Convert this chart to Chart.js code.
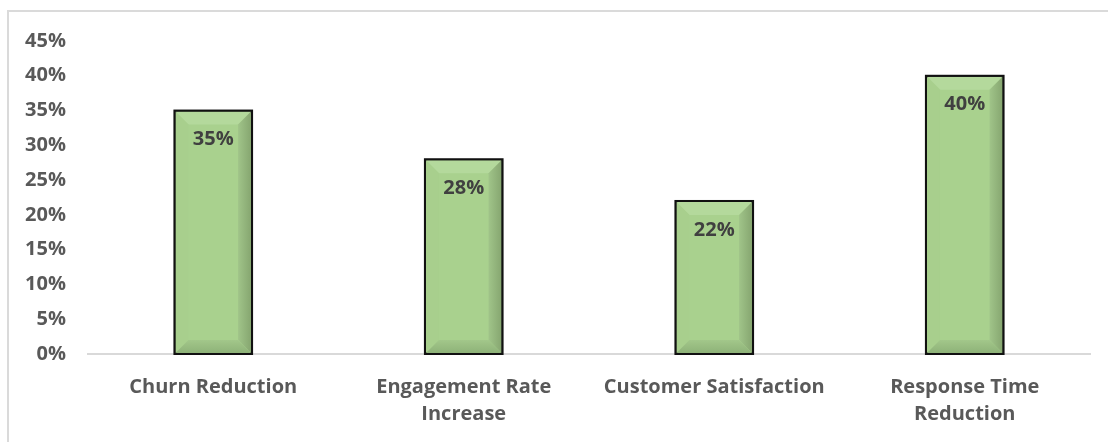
<!DOCTYPE html>
<html>
<head>
<meta charset="utf-8">
<script src="https://cdn.jsdelivr.net/npm/chart.js@4"></script>
<style>
  html, body { margin: 0; padding: 0; background: #fff; overflow: hidden; }
  #wrap { position: relative; width: 1108px; height: 442px; }
  #frame { position: absolute; left: 7px; top: 10px; width: 1120px; height: 460px; border: 2px solid #dadada; box-sizing: border-box; }
  #chart { position: absolute; left: 0; top: 0; }
</style>
</head>
<body>
<div id="wrap">
  <div id="frame"></div>
  <canvas id="chart" width="1108" height="442"></canvas>
</div>
<script>
// data
const categories = [
  'Churn Reduction',
  ['Engagement Rate', 'Increase'],
  'Customer Satisfaction',
  ['Response Time', 'Reduction']
];
const improvement = [35, 28, 22, 40];
const yTicks = [0, 5, 10, 15, 20, 25, 30, 35, 40, 45];

const FONT = '"Open Sans", Lato, sans-serif';

// bevel look on each bar (uses the bar element geometry)
const bevelPlugin = {
  id: 'bevel',
  afterDatasetsDraw(chart) {
    const c = chart.ctx;
    chart.getDatasetMeta(0).data.forEach(bar => {
      const l = bar.x - bar.width / 2 + 1, r = bar.x + bar.width / 2 - 1;
      const t = bar.y + 1, b = bar.base - 1;
      const d = 13;
      c.save();
      // top
      c.fillStyle = '#b4d99c';
      c.beginPath(); c.moveTo(l, t); c.lineTo(r, t); c.lineTo(r - d, t + d); c.lineTo(l + d, t + d); c.closePath(); c.fill();
      // left
      c.fillStyle = '#a8cf8d';
      c.beginPath(); c.moveTo(l, t); c.lineTo(l + d, t + d); c.lineTo(l + d, b - d); c.lineTo(l, b); c.closePath(); c.fill();
      // right
      let g = c.createLinearGradient(r - d, 0, r, 0);
      g.addColorStop(0, '#a0c489'); g.addColorStop(1, '#86a670');
      c.fillStyle = g;
      c.beginPath(); c.moveTo(r, t); c.lineTo(r - d, t + d); c.lineTo(r - d, b - d); c.lineTo(r, b); c.closePath(); c.fill();
      // bottom
      g = c.createLinearGradient(0, b - d, 0, b);
      g.addColorStop(0, '#a2c78a'); g.addColorStop(1, '#8eb278');
      c.fillStyle = g;
      c.beginPath(); c.moveTo(l, b); c.lineTo(l + d, b - d); c.lineTo(r - d, b - d); c.lineTo(r, b); c.closePath(); c.fill();
      // border again
      c.strokeStyle = '#111';
      c.lineWidth = 2;
      c.strokeRect(bar.x - bar.width / 2, bar.y, bar.width, bar.base - bar.y);
      c.restore();
    });
  }
};

// value labels inside top of bars
const valueLabels = {
  id: 'valueLabels',
  afterDatasetsDraw(chart) {
    const c = chart.ctx;
    const ds = chart.data.datasets[0];
    c.save();
    c.font = 'bold 20px ' + FONT;
    c.fillStyle = '#404040';
    c.textAlign = 'center';
    c.textBaseline = 'middle';
    chart.getDatasetMeta(0).data.forEach((bar, i) => {
      c.fillText(ds.data[i] + '%', bar.x, bar.y + 29);
    });
    c.restore();
  }
};

new Chart(document.getElementById('chart'), {
  type: 'bar',
  data: {
    labels: categories,
    datasets: [{
      data: improvement,
      backgroundColor: '#a9d18e',
      borderColor: '#111',
      borderWidth: 2,
      borderSkipped: false,
      categoryPercentage: 1,
      barPercentage: 0.31
    }]
  },
  options: {
    responsive: false,
    animation: false,
    devicePixelRatio: 1,
    layout: { padding: { top: 41, right: 18, bottom: 0, left: 0 } },
    plugins: { legend: { display: false }, tooltip: { enabled: false } },
    scales: {
      x: {
        grid: { display: false, drawTicks: false },
        border: { color: '#d9d9d9', width: 2 },
        ticks: {
          color: '#595959',
          font: { family: FONT, size: 20, weight: 'bold', lineHeight: 1.35 },
          padding: 20,
          maxRotation: 0,
          autoSkip: false
        },
        afterFit(scale) { scale.height = 88; }
      },
      y: {
        min: 0,
        max: 45,
        afterBuildTicks(scale) { scale.ticks = yTicks.map(v => ({ value: v })); },
        grid: { display: false, drawTicks: false },
        border: { display: false },
        ticks: {
          color: '#595959',
          font: { family: FONT, size: 20, weight: 'bold' },
          padding: 22,
          callback: v => v + '%'
        },
        afterFit(scale) { scale.width = 88; }
      }
    }
  },
  plugins: [bevelPlugin, valueLabels]
});
</script>
</body>
</html>
